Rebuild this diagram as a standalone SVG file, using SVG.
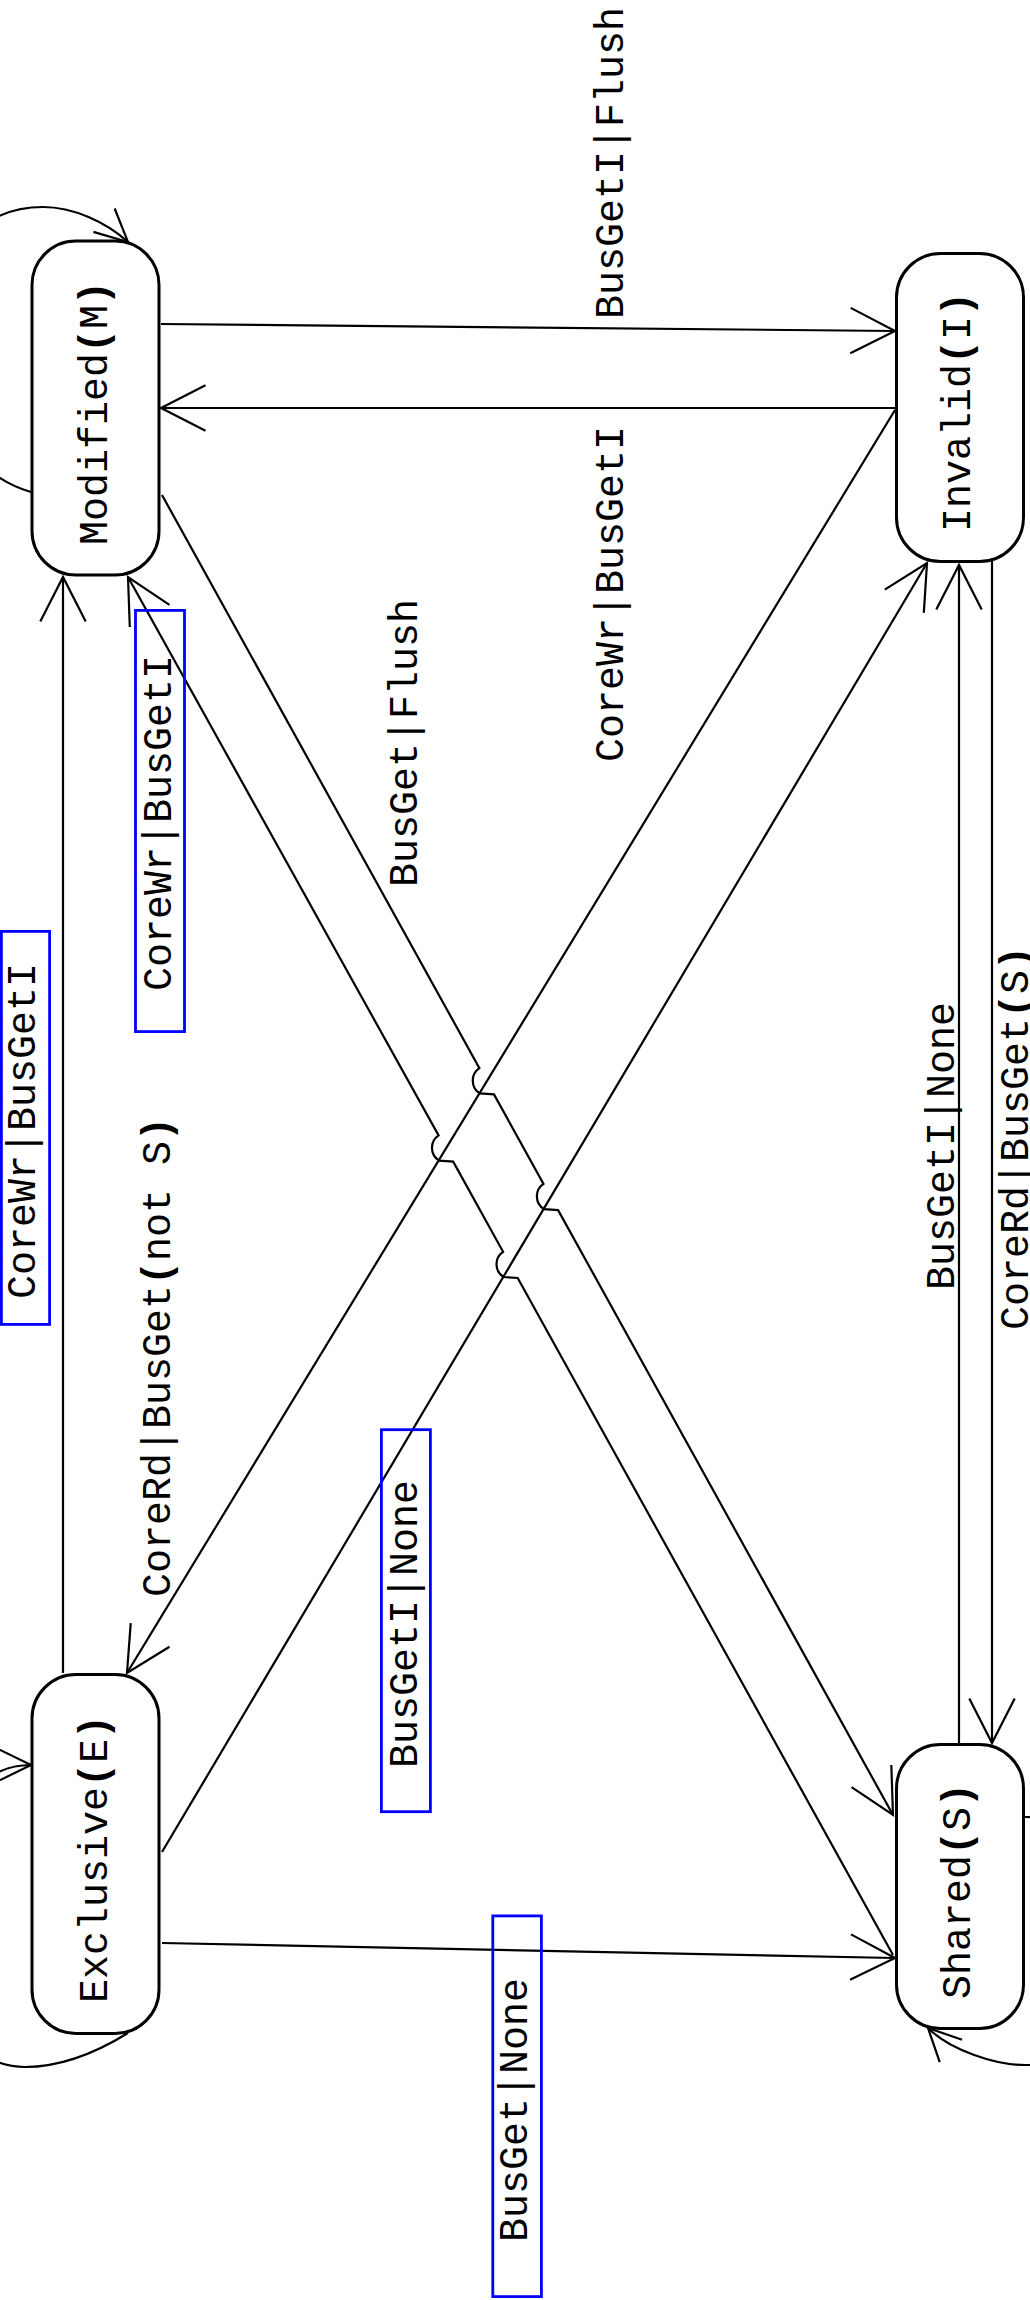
<svg xmlns="http://www.w3.org/2000/svg" width="1030" height="2300" viewBox="0 0 1030 2300">
<style>
.node rect{fill:#fff;stroke:#000;stroke-width:3}
.lbl{font-family:"Liberation Mono","DejaVu Sans Mono",monospace;font-size:40px;fill:#000}
.mid{text-anchor:middle}
.edge{fill:none;stroke:#000;stroke-width:2.2;stroke-linejoin:miter}
.box{fill:none;stroke:#0000ff;stroke-width:2.8}
.b{font-weight:bold}
</style>
<defs>
<marker id="arr" markerUnits="userSpaceOnUse" markerWidth="60" markerHeight="60" refX="0" refY="0" orient="auto" overflow="visible">
<path d="M-44.5,-22.7 L0,0 L-44.5,22.7" fill="none" stroke="#000" stroke-width="2.2"/>
</marker>
<marker id="arrs" markerUnits="userSpaceOnUse" markerWidth="50" markerHeight="50" refX="0" refY="0" orient="auto" overflow="visible">
<path d="M-32.4,-15.8 L0,0 L-32.4,15.8" fill="none" stroke="#000" stroke-width="2.2"/>
</marker>
</defs>
<rect width="1030" height="2300" fill="#fff"/>
<g id="connectors">
<path class="edge" marker-end="url(#arr)" d="M161,324 L895,331"/>
<path class="edge" marker-end="url(#arr)" d="M895,408 L161,408"/>
<path class="edge" marker-end="url(#arr)" d="M63,1673 L63,577"/>
<path class="edge" marker-end="url(#arr)" d="M893,1955 L517.7,1278 L503.6,1277 A15,15 0 0 1 503.1,1251.8 L453.2,1161.6 L439.1,1160.6 A15,15 0 0 1 438.6,1135.4 L128,577"/>
<path class="edge" marker-end="url(#arr)" d="M162,495 L479.4,1068.2 A15,15 0 0 0 479.9,1093.4 L494,1094.4 L543.5,1183.9 A15,15 0 0 0 544,1209.1 L558.1,1210.1 L893,1815"/>
<path class="edge" marker-end="url(#arr)" d="M895,410 L127,1673"/>
<path class="edge" marker-end="url(#arr)" d="M162,1852 L927,563"/>
<path class="edge" marker-end="url(#arr)" d="M959,1743 L959,565"/>
<path class="edge" marker-end="url(#arr)" d="M992,561 L992,1743"/>
<path class="edge" marker-end="url(#arr)" d="M162,1943 L895,1958"/>
<path class="edge" marker-end="url(#arrs)" d="M31,492 C-100,454 -100,207 43,207 C73,207 106,222 128,242"/>
<path class="edge" marker-end="url(#arrs)" d="M128,2033 C94,2054 60,2067 25,2067 C-105,2067 -99,1765 31,1765"/>
<path class="edge" marker-end="url(#arrs)" d="M1025,1817 C1130,1817 1130,2065 1025,2065 C995,2065 950,2050 928,2028"/>
</g>
<g id="node-modified" class="node">
<rect x="32" y="241" width="127" height="334" rx="44" ry="44"/>
<text class="lbl mid" transform="translate(107,413) rotate(-90)">Modified<tspan class="b">(</tspan>M<tspan class="b">)</tspan></text>
</g>
<g id="node-invalid" class="node">
<rect x="896.5" y="253.5" width="127" height="308" rx="44" ry="44"/>
<text class="lbl mid" transform="translate(970,412) rotate(-90)">Invalid<tspan class="b">(</tspan>I<tspan class="b">)</tspan></text>
</g>
<g id="node-exclusive" class="node">
<rect x="32" y="1674.5" width="127" height="359" rx="44" ry="44"/>
<text class="lbl mid" transform="translate(107,1859) rotate(-90)">Exclusive<tspan class="b">(</tspan>E<tspan class="b">)</tspan></text>
</g>
<g id="node-shared" class="node">
<rect x="896.5" y="1744.5" width="127" height="284" rx="44" ry="44"/>
<text class="lbl mid" transform="translate(970,1891) rotate(-90)">Shared<tspan class="b">(</tspan>S<tspan class="b">)</tspan></text>
</g>
<g id="labels">
<text class="lbl" transform="translate(623,319) rotate(-90)">BusGetI|Flush</text>
<text class="lbl" transform="translate(623,762) rotate(-90)">CoreWr|BusGetI</text>
<text class="lbl" transform="translate(417,887) rotate(-90)">BusGet|Flush</text>
<rect class="box" x="135.5" y="610.4" width="49" height="421.2"/>
<text class="lbl" transform="translate(171,991) rotate(-90)">CoreWr|BusGetI</text>
<rect class="box" x="1.4" y="931.4" width="48.2" height="393"/>
<text class="lbl" transform="translate(35,1299) rotate(-90)">CoreWr|BusGetI</text>
<text class="lbl" transform="translate(170,1597) rotate(-90)">CoreRd|BusGet<tspan class="b">(</tspan>not S<tspan class="b">)</tspan></text>
<rect class="box" x="381.4" y="1429.7" width="49" height="382"/>
<text class="lbl" transform="translate(417,1768) rotate(-90)">BusGetI|None</text>
<rect class="box" x="492.8" y="1915.9" width="48.6" height="380.7"/>
<text class="lbl" transform="translate(527,2242) rotate(-90)">BusGet|None</text>
<text class="lbl" transform="translate(954,1290) rotate(-90)">BusGetI|None</text>
<text class="lbl" transform="translate(1028,1330) rotate(-90)">CoreRd|BusGet<tspan class="b">(</tspan>S<tspan class="b">)</tspan></text>
</g>
</svg>
